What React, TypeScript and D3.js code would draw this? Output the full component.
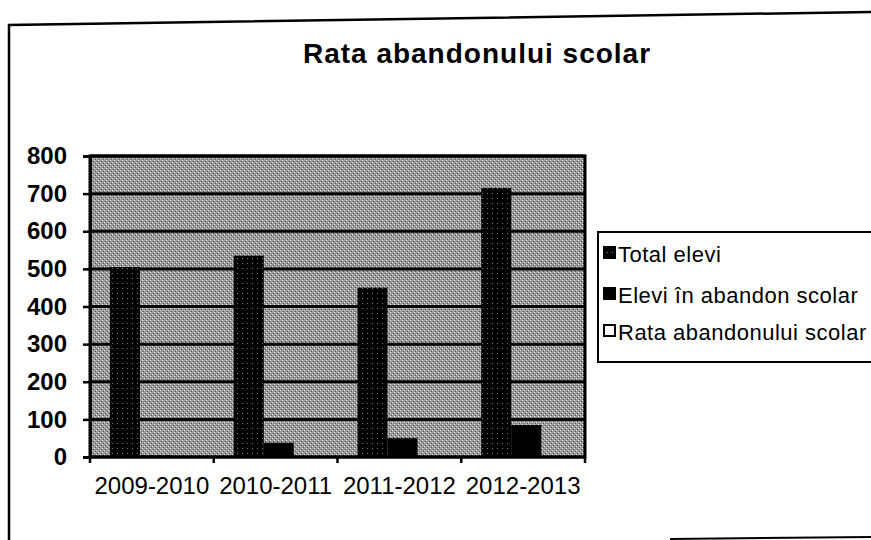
import React, { useEffect, useRef } from 'react';
import * as d3 from 'd3';

// data
const categories = ['2009-2010', '2010-2011', '2011-2012', '2012-2013'];
const totalElevi = [505, 535, 450, 715];
const eleviAbandon = [5, 38, 50, 85];
const rataAbandon = [0.01, 0.071, 0.111, 0.119]; // fractions, too small to show on this scale
const seriesNames = ['Total elevi', 'Elevi în abandon scolar', 'Rata abandonului scolar'];
const yTicks = [0, 100, 200, 300, 400, 500, 600, 700, 800];
const chartTitle = 'Rata abandonului scolar';

export default function App() {
	const ref = useRef<SVGSVGElement>(null);

	useEffect(() => {
		const svg = d3.select(ref.current);
		svg.selectAll('*').remove();

		const font = '"Liberation Sans", Arial, sans-serif';
		const width = 871;
		const height = 540;
		// plot area sits at 90..585 horizontally, 156..457 vertically
		const margin = { top: 156, right: 286, bottom: 83, left: 90 };
		const plotW = width - margin.left - margin.right;
		const plotH = height - margin.top - margin.bottom;

		// halftone look of the scanned background
		const defs = svg.append('defs');
		const bg = defs.append('pattern').attr('id', 'bgpat')
			.attr('width', 4).attr('height', 4).attr('patternUnits', 'userSpaceOnUse');
		bg.append('rect').attr('width', 4).attr('height', 4).attr('fill', '#9a9a9a');
		bg.append('rect').attr('x', 0).attr('y', 0).attr('width', 1).attr('height', 1).attr('fill', '#eeeeee');
		bg.append('rect').attr('x', 2).attr('y', 2).attr('width', 1).attr('height', 1).attr('fill', '#dddddd');
		bg.append('rect').attr('x', 3).attr('y', 1).attr('width', 1).attr('height', 1).attr('fill', '#444');
		bg.append('rect').attr('x', 1).attr('y', 3).attr('width', 1).attr('height', 1).attr('fill', '#5a5a5a');

		const dots = defs.append('pattern').attr('id', 'dotpat')
			.attr('width', 5).attr('height', 5).attr('patternUnits', 'userSpaceOnUse');
		dots.append('rect').attr('width', 5).attr('height', 5).attr('fill', '#000');
		dots.append('rect').attr('x', 2).attr('y', 2).attr('width', 1).attr('height', 1).attr('fill', '#777');

		// outer frame (slightly skewed like the scan)
		svg.append('path')
			.attr('d', 'M9,540 L9,25 L871,12')
			.attr('fill', 'none').attr('stroke', '#000').attr('stroke-width', 2.5);
		svg.append('line')
			.attr('x1', 670).attr('y1', 539).attr('x2', 871).attr('y2', 537)
			.attr('stroke', '#000').attr('stroke-width', 2);

		svg.append('text')
			.text(chartTitle)
			.attr('x', 477).attr('y', 63)
			.attr('text-anchor', 'middle')
			.attr('font-family', font).attr('font-weight', 'bold')
			.attr('font-size', 28).attr('letter-spacing', 1);

		const x = d3.scaleBand().domain(categories).range([0, plotW]);
		const inner = d3.scaleBand().domain(seriesNames).range([20, 110]);
		const y = d3.scaleLinear().domain([0, 800]).range([plotH, 0]);

		const g = svg.append('g').attr('transform', `translate(${margin.left},${margin.top})`);

		g.append('rect').attr('width', plotW).attr('height', plotH).attr('fill', 'url(#bgpat)');

		// horizontal gridlines
		g.selectAll('line.grid').data(yTicks).enter().append('line')
			.attr('class', 'grid')
			.attr('x1', 0).attr('x2', plotW)
			.attr('y1', d => y(d)).attr('y2', d => y(d))
			.attr('stroke', '#000').attr('stroke-width', 3);

		const series = [
			{ name: seriesNames[0], values: totalElevi, fill: 'url(#dotpat)', stroke: 'none' },
			{ name: seriesNames[1], values: eleviAbandon, fill: '#000', stroke: 'none' },
			{ name: seriesNames[2], values: rataAbandon, fill: '#fff', stroke: '#000' },
		];

		series.forEach(s => {
			g.selectAll(null).data(s.values).enter().append('rect')
				.attr('x', (d, i) => (x(categories[i]) as number) + (inner(s.name) as number))
				.attr('width', inner.bandwidth())
				.attr('y', d => y(d))
				.attr('height', d => plotH - y(d))
				.attr('fill', s.fill)
				.attr('stroke', s.stroke);
		});

		// plot border
		g.append('rect').attr('width', plotW).attr('height', plotH)
			.attr('fill', 'none').attr('stroke', '#000').attr('stroke-width', 3);

		// y axis
		const yAxis = d3.axisLeft(y).tickValues(yTicks).tickSize(7).tickPadding(16).tickFormat(d3.format('d'));
		const ya = g.append('g').call(yAxis);
		ya.select('.domain').attr('stroke-width', 3);
		ya.selectAll('.tick line').attr('stroke-width', 2.5);
		ya.selectAll('.tick text')
			.attr('font-family', font).attr('font-size', 24).attr('font-weight', 'bold')
			.attr('fill', '#000');

		// category boundary ticks
		const bounds = categories.map(c => x(c) as number).concat([plotW]);
		g.selectAll('line.xtick').data(bounds).enter().append('line')
			.attr('class', 'xtick')
			.attr('x1', d => d).attr('x2', d => d)
			.attr('y1', plotH).attr('y2', plotH + 6)
			.attr('stroke', '#000').attr('stroke-width', 2.5);

		g.selectAll('text.xlab').data(categories).enter().append('text')
			.attr('class', 'xlab')
			.text(d => d)
			.attr('x', d => (x(d) as number) + x.bandwidth() / 2)
			.attr('y', plotH + 37)
			.attr('text-anchor', 'middle')
			.attr('font-family', font).attr('font-size', 24);

		// legend
		const legend = svg.append('g');
		legend.append('rect')
			.attr('x', 598).attr('y', 232).attr('width', 290).attr('height', 130)
			.attr('fill', '#fff').attr('stroke', '#000').attr('stroke-width', 2);
		const baselines = [262, 303, 340];
		series.forEach((s, i) => {
			legend.append('rect')
				.attr('x', 604).attr('y', baselines[i] - 15)
				.attr('width', 11).attr('height', 11)
				.attr('fill', s.fill)
				.attr('stroke', '#000').attr('stroke-width', 2);
			legend.append('text')
				.text(s.name)
				.attr('x', 618).attr('y', baselines[i])
				.attr('font-family', font).attr('font-size', 22)
				.attr('letter-spacing', 0.5);
		});
	}, []);

	return (
		<svg ref={ref} width={871} height={540}
			style={{ position: 'absolute', left: 0, top: 0, background: '#fff' }} />
	);
}
